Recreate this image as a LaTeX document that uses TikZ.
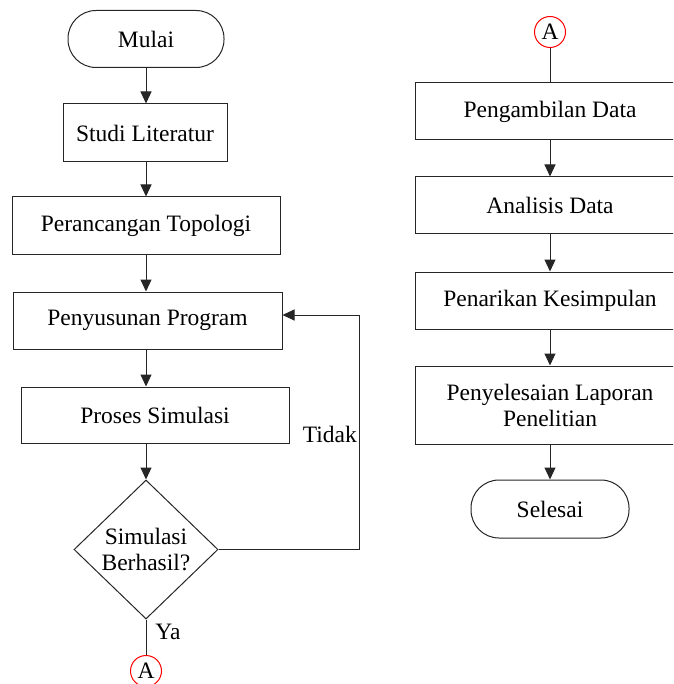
\documentclass[tikz,border=0pt]{standalone}
\usepackage{fontspec}
\setmainfont{Liberation Serif}
\usetikzlibrary{arrows.meta,shapes.geometric}
\begin{document}
\begin{tikzpicture}[x=1pt,y=-1pt,
  font=\fontsize{23.5}{26}\selectfont,
  box/.style={draw=black!85, line width=1pt, rectangle, inner sep=0pt, align=center},
  term/.style={draw=black!85, line width=1pt, rectangle, rounded corners=28pt, inner sep=0pt},
  circ/.style={draw=red, line width=1pt, circle, minimum size=31pt, inner sep=0pt},
  arr/.style={draw=black!85, line width=1pt, -{Triangle[width=11pt,length=12pt]}},
  ln/.style={draw=black!85, line width=1pt}]
\useasboundingbox (0,0) rectangle (673,684);
\clip (0,0) rectangle (673,684);
% left column
\node[term, minimum width=156pt, minimum height=57pt] (mulai) at (146,39) {Mulai};
\node[box, minimum width=164pt, minimum height=58pt] (studi) at (145,133) {Studi Literatur};
\node[box, minimum width=268pt, minimum height=58pt] (topo) at (146,226) {Perancangan Topologi};
\node[box, minimum width=269pt, minimum height=57pt] (prog) at (147.5,320.5) {Penyusunan Program};
\node[box, minimum width=268pt, minimum height=56pt] (sim) at (155,415) {Proses Simulasi};
\node[draw=black!85, line width=1pt, diamond, minimum width=144pt, minimum height=139pt, inner sep=0pt] (dec) at (146,549.5) {};
\node[align=center, inner sep=0pt] (dectext) at (146,550) {Simulasi\\Berhasil?};
\node[circ] (a1) at (146,671) {A};
\node (ya) at (168,632) {Ya};
\node[anchor=east, inner sep=0pt] (tidak) at (357,434) {Tidak};
\coordinate (loopc) at (359,315);
% right column
\node[circ] (a2) at (550,32) {A};
\node[box, minimum width=270pt, minimum height=57pt] (ambil) at (550,111.5) {Pengambilan Data};
\node[box, minimum width=270pt, minimum height=57pt] (anal) at (550,205.5) {Analisis Data};
\node[box, minimum width=270pt, minimum height=57pt] (tarik) at (550,300.5) {Penarikan Kesimpulan};
\node[box, minimum width=270pt, minimum height=78pt] (lapor) at (550,405) {Penyelesaian Laporan\\Penelitian};
\node[term, minimum width=158pt, minimum height=58pt] (selesai) at (550,509) {Selesai};
% connectors left
\draw[arr] (mulai.south) -- (mulai.south |- studi.north);
\draw[arr] (mulai.south |- studi.south) -- (mulai.south |- topo.north);
\draw[arr] (mulai.south |- topo.south) -- (mulai.south |- prog.north);
\draw[arr] (dec.north |- prog.south) -- (dec.north |- sim.north);
\draw[arr] (dec.north |- sim.south) -- (dec.north);
\draw[arr] (dec.east) -| (loopc) -- (loopc -| prog.east);
\draw[ln] (dec.south) -- (a1.north);
% connectors right
\draw[ln] (a2.south) -- (ambil.north);
\draw[arr] (ambil.south) -- (anal.north);
\draw[arr] (anal.south) -- (tarik.north);
\draw[arr] (tarik.south) -- (lapor.north);
\draw[arr] (lapor.south) -- (selesai.north);
\end{tikzpicture}
\end{document}
